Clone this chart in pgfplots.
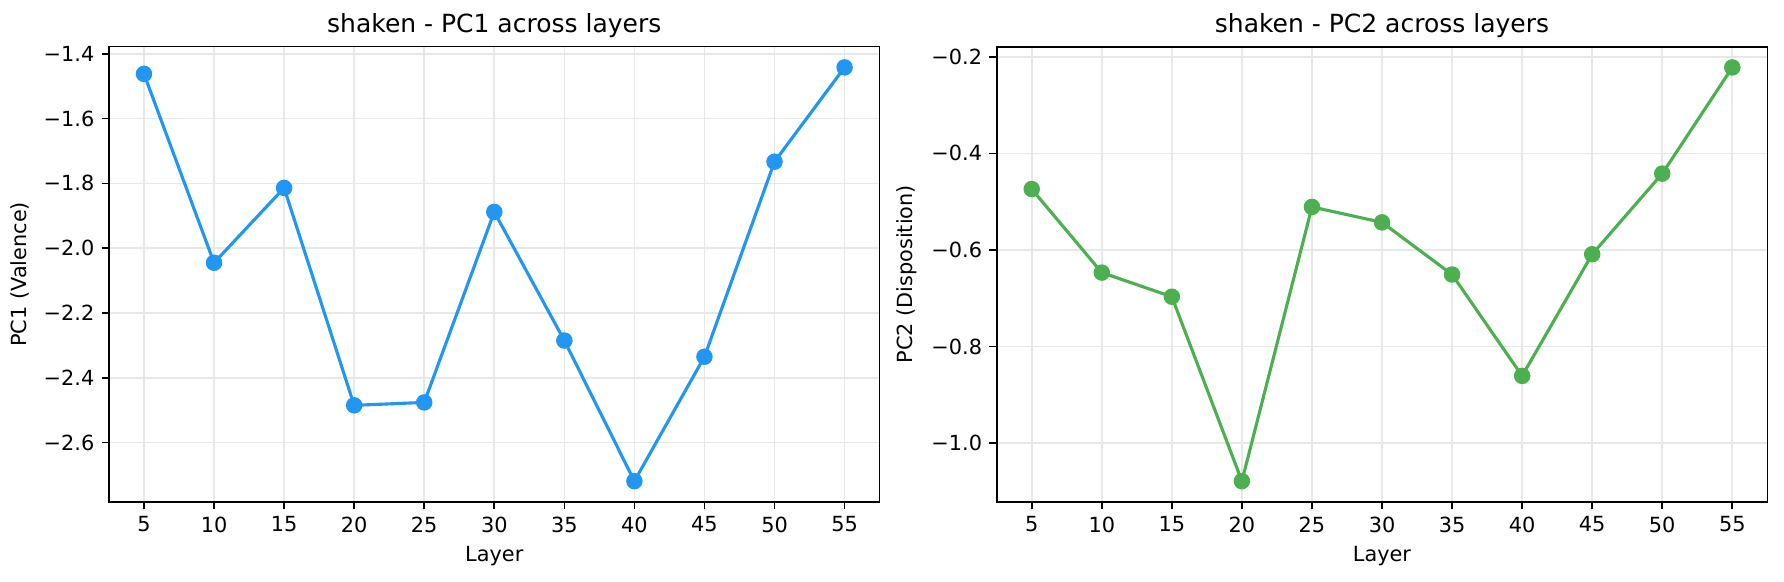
\documentclass[border=0pt]{standalone}
\usepackage{fontspec}
\setmainfont{DejaVu Sans}
\usepackage{pgfplots}
\pgfplotsset{compat=1.18}
\definecolor{pcblue}{HTML}{2196F3}
\definecolor{pcgreen}{HTML}{4CAF50}
\definecolor{gridgray}{HTML}{E8E8E8}

\pgfplotsset{
  layerstyle/.style={
    scale only axis, width=369.9pt, height=218.5pt,
    xmin=2.5, xmax=57.5,
    xtick={5,10,...,55},
    grid=major,
    major grid style={gridgray, line width=0.8pt},
    axis line style={line width=0.8pt},
    tick style={black, line width=0.8pt},
    major tick length=3.5pt,
    tick align=outside,
    xtick pos=bottom, ytick pos=left,
    ticklabel style={font=\fontsize{10}{12}\selectfont},
    label style={font=\fontsize{10}{12}\selectfont},
    title style={font=\fontsize{12}{14}\selectfont, yshift=-5pt},
    /pgf/number format/assume math mode=true,
    xlabel=Layer,
  }
}

\begin{document}
\begin{tikzpicture}
\useasboundingbox (-52.3pt,-38pt) rectangle (804pt,240.9pt);
% left panel: PC1
\begin{axis}[layerstyle,
  at={(0pt,0pt)}, anchor=south west,
  ymin=-2.783, ymax=-1.378,
  ytick={-2.6,-2.4,-2.2,-2.0,-1.8,-1.6,-1.4},
  yticklabels={−2.6,−2.4,−2.2,−2.0,−1.8,−1.6,−1.4},
  ylabel={PC1 (Valence)},
  title={shaken - PC1 across layers},
]
\addplot[pcblue, line width=1.5pt, mark=*, mark size=3.2pt, mark options={solid, fill=pcblue, draw=pcblue}] coordinates {
  (5,-1.462) (10,-2.045) (15,-1.814) (20,-2.485) (25,-2.476) (30,-1.888)
  (35,-2.285) (40,-2.719) (45,-2.335) (50,-1.733) (55,-1.442)
};
\end{axis}
% right panel: PC2
\begin{axis}[layerstyle,
  at={(426.1pt,0pt)}, anchor=south west,
  ymin=-1.122, ymax=-0.179,
  ytick={-1.0,-0.8,-0.6,-0.4,-0.2},
  yticklabels={−1.0,−0.8,−0.6,−0.4,−0.2},
  ylabel={PC2 (Disposition)},
  title={shaken - PC2 across layers},
]
\addplot[pcgreen, line width=1.5pt, mark=*, mark size=3.2pt, mark options={solid, fill=pcgreen, draw=pcgreen}] coordinates {
  (5,-0.474) (10,-0.647) (15,-0.697) (20,-1.079) (25,-0.511) (30,-0.543)
  (35,-0.651) (40,-0.861) (45,-0.609) (50,-0.442) (55,-0.222)
};
\end{axis}
\end{tikzpicture}
\end{document}
